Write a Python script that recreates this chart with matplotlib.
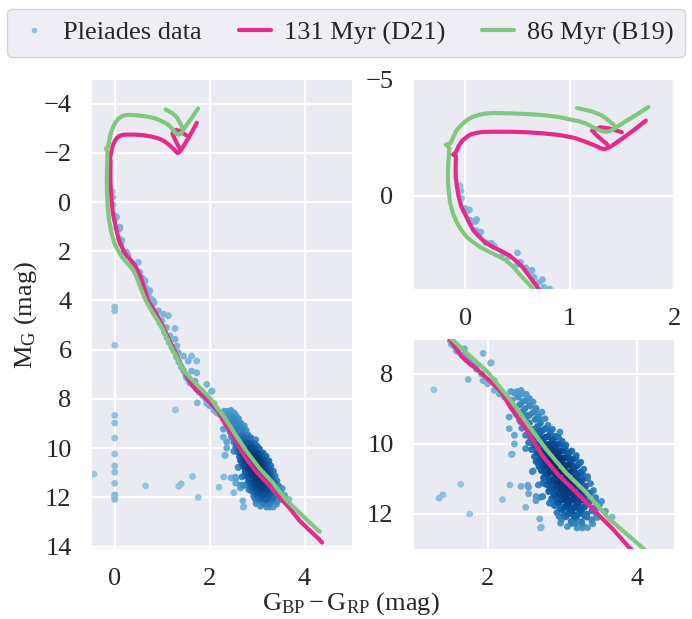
import numpy as np
import matplotlib
matplotlib.use("Agg")
import matplotlib.pyplot as plt
from matplotlib.lines import Line2D
import seaborn as sns

# ---------------- data ----------------
# Isochrone 131 Myr (D21): colour G_BP-G_RP and absolute G magnitude (nan = break)
d21_bp_rp = [4.37, 4.28, 4.10, 3.90, 3.68, 3.41, 3.19, 2.96, 2.74, 2.52, 2.30, 2.18, 1.93,
             1.65, 1.49, 1.37, 1.25, 1.12, 1.00, 0.84, 0.71, 0.63, 0.549, 0.49, 0.422, 0.34,
             0.263, 0.19, 0.136, 0.08, 0.041, -0.038, -0.065, -0.080, -0.09, -0.092, -0.09,
             -0.088, -0.115, -0.09, -0.061, -0.03, 0.01, 0.05, 0.105, 0.17, 0.263, 0.42, 0.58,
             0.75, 0.898, 1.0, 1.057, 1.152, 1.248, 1.30, 1.327, 1.36, 1.406, 1.47, 1.533, 1.63,
             1.73,
             np.nan, 1.50, 1.374, 1.295, 1.215, 1.28, 1.36]
d21_mg = [13.84, 13.65, 13.33, 12.96, 12.43, 11.86, 11.38, 10.91, 10.35, 9.59, 8.93, 8.50, 8.00,
          7.50, 7.00, 6.50, 6.00, 5.50, 5.00, 4.42, 4.03, 3.55, 3.06, 2.80, 2.56, 2.36,
          2.20, 2.00, 1.76, 1.50, 1.18, 0.46, 0.00, -0.40, -0.80, -1.13, -1.50,
          -1.70, -1.76, -1.86, -2.14, -2.35, -2.50, -2.62, -2.69, -2.73, -2.74, -2.74, -2.72,
          -2.67, -2.60, -2.52, -2.46, -2.31, -2.14, -2.03, -1.99, -2.03, -2.14, -2.34, -2.54, -2.86,
          -3.22,
          np.nan, -2.72, -2.89, -2.93, -2.79, -2.50, -2.20]

# Isochrone 86 Myr (B19)
b19_bp_rp = [4.32, 4.075, 3.63, 3.32, 3.05, 2.79, 2.56, 2.34, 2.00, 1.72, 1.47, 1.22, 0.97,
             0.80, 0.66, 0.59, 0.517, 0.46, 0.39, 0.31, 0.231, 0.15, 0.072, 0.01, -0.038, -0.08,
             -0.118, -0.145, -0.156, -0.165, -0.166, -0.162, -0.156, -0.152, -0.185, -0.14,
             -0.11, -0.086, -0.04, 0.01, 0.07, 0.136, 0.20, 0.263, 0.42, 0.58, 0.75, 0.898, 1.0,
             1.08, 1.152, 1.248, 1.31, 1.35, 1.39, 1.47, 1.63, 1.755,
             np.nan, 1.072, 1.215, 1.31, 1.374, 1.422]
b19_mg = [13.40, 12.96, 12.14, 11.38, 10.82, 10.16, 9.50, 8.83, 7.94, 7.40, 6.90, 6.00, 5.00,
          4.50, 4.03, 3.70, 3.35, 3.05, 2.77, 2.58, 2.41, 2.22, 1.98, 1.75, 1.47, 1.15,
          0.75, 0.30, -0.12, -0.55, -0.98, -1.40, -1.70, -2.05, -2.18, -2.25,
          -2.55, -2.79, -3.02, -3.22, -3.37, -3.47, -3.52, -3.54, -3.53, -3.50, -3.45, -3.37, -3.27,
          -3.20, -3.10, -2.88, -2.76, -2.74, -2.77, -3.00, -3.44, -3.80,
          np.nan, -3.76, -3.61, -3.44, -3.22, -3.03]

# Pleiades members (colour, M_G), upper and middle main sequence
ms_stars = [(-0.05, -0.42), (-0.04, -0.20), (-0.035, 0.12), (0.0, 0.55), (0.01, 0.68), (0.04, 1.04),
            (0.07, 1.11), (0.10, 1.10), (0.105, 1.50), (0.13, 1.68), (0.20, 2.02), (0.25, 2.08),
            (0.28, 2.17), (0.36, 2.48), (0.42, 2.60), (0.50, 2.45), (0.50, 2.95), (0.58, 3.09),
            (0.63, 3.24), (0.66, 3.50), (0.71, 3.71), (0.755, 3.93), (0.83, 4.10), (0.04, 0.61),
            (0.11, 1.02), (0.15, 1.56), (0.25, 2.04), (0.53, 2.86), (0.64, 3.20), (0.74, 3.60),
            (0.81, 4.01), (0.92, 4.42), (1.03, 4.56), (1.13, 4.62), (0.99, 4.83), (1.09, 5.10),
            (1.27, 5.14), (1.16, 5.44), (1.27, 5.58), (1.31, 5.85), (1.34, 6.12), (1.45, 6.26),
            (1.62, 6.26), (1.73, 6.46), (1.55, 6.46), (1.62, 6.87), (1.73, 6.94), (1.69, 7.28),
            (1.94, 7.41), (2.04, 7.69), (0.78, 4.20), (0.86, 4.50), (0.90, 4.70), (0.95, 4.90),
            (1.00, 5.05), (1.05, 5.30), (1.10, 5.50), (1.15, 5.70), (1.20, 5.90), (1.25, 6.05),
            (1.30, 6.30), (1.35, 6.50), (1.40, 6.70), (1.45, 6.85), (1.50, 7.05), (1.55, 7.20),
            (1.60, 7.35), (1.67, 7.45), (1.72, 7.60), (1.78, 7.72), (1.83, 7.75), (1.85, 7.86),
            (1.92, 8.00), (1.94, 8.19), (2.00, 8.28), (2.09, 8.19), (2.09, 8.47), (2.16, 8.57),
            (2.23, 8.66), (2.29, 8.80), (1.515, 7.15), (1.58, 7.34), (1.715, 7.53), (1.76, 7.67),
            (2.05, 7.68), (1.85, 7.76), (1.74, 8.16)]

# Pleiades members, low-mass cluster sequence
core_stars = [(2.31, 8.50), (2.37, 8.56), (2.45, 8.47), (2.52, 8.58),
              (2.33, 8.75), (2.41, 8.66), (2.47, 8.79), (2.56, 8.70), (2.61, 8.80),
              (2.35, 8.95), (2.43, 8.88), (2.50, 8.99), (2.57, 8.91), (2.65, 8.98),
              (2.39, 9.15), (2.47, 9.07), (2.53, 9.19), (2.61, 9.10), (2.68, 9.21), (2.73, 9.09),
              (2.44, 9.36), (2.51, 9.26), (2.56, 9.40), (2.64, 9.30), (2.71, 9.41), (2.77, 9.28),
              (2.46, 9.55), (2.53, 9.46), (2.60, 9.59), (2.67, 9.50), (2.73, 9.62), (2.81, 9.47), (2.87, 9.58),
              (2.51, 9.75), (2.57, 9.67), (2.64, 9.79), (2.70, 9.70), (2.77, 9.82), (2.84, 9.68), (2.91, 9.78), (2.97, 9.66),
              (2.55, 9.96), (2.62, 9.88), (2.67, 10.01), (2.74, 9.90), (2.80, 10.02), (2.87, 9.89), (2.93, 10.00), (3.00, 9.92), (3.05, 10.03),
              (2.59, 10.16), (2.66, 10.08), (2.71, 10.21), (2.78, 10.10), (2.84, 10.22), (2.91, 10.09), (2.97, 10.20), (3.04, 10.11), (3.10, 10.23),
              (2.63, 10.36), (2.70, 10.28), (2.75, 10.41), (2.82, 10.30), (2.88, 10.42), (2.95, 10.29), (3.01, 10.40), (3.08, 10.31), (3.14, 10.43), (3.19, 10.33),
              (2.68, 10.56), (2.73, 10.47), (2.80, 10.61), (2.86, 10.50), (2.93, 10.62), (2.99, 10.49), (3.06, 10.60), (3.12, 10.51), (3.19, 10.63), (3.25, 10.52),
              (2.72, 10.76), (2.77, 10.68), (2.84, 10.81), (2.90, 10.70), (2.97, 10.82), (3.03, 10.69), (3.10, 10.80), (3.16, 10.71), (3.23, 10.83), (3.29, 10.72),
              (2.75, 10.96), (2.81, 10.88), (2.88, 11.01), (2.94, 10.90), (3.01, 11.02), (3.07, 10.89), (3.14, 11.00), (3.20, 10.91), (3.27, 11.03), (3.34, 10.93),
              (2.79, 11.16), (2.85, 11.08), (2.92, 11.21), (2.98, 11.10), (3.05, 11.22), (3.11, 11.09), (3.18, 11.20), (3.24, 11.11), (3.31, 11.23), (3.38, 11.13),
              (2.82, 11.36), (2.88, 11.28), (2.95, 11.41), (3.01, 11.30), (3.08, 11.42), (3.14, 11.29), (3.21, 11.40), (3.27, 11.31), (3.35, 11.43), (3.42, 11.33),
              (2.86, 11.56), (2.91, 11.48), (2.98, 11.61), (3.04, 11.50), (3.11, 11.62), (3.17, 11.49), (3.24, 11.60), (3.30, 11.51), (3.38, 11.62), (3.45, 11.53),
              (2.90, 11.76), (2.96, 11.68), (3.03, 11.81), (3.09, 11.70), (3.16, 11.82), (3.22, 11.69), (3.29, 11.80), (3.35, 11.71), (3.43, 11.82), (3.50, 11.73),
              (2.93, 11.96), (3.00, 11.88), (3.06, 12.01), (3.13, 11.90), (3.19, 12.02), (3.26, 11.89), (3.33, 12.00), (3.40, 11.91), (3.46, 12.02),
              (2.99, 12.16), (3.05, 12.08), (3.12, 12.21), (3.19, 12.10), (3.26, 12.22), (3.33, 12.09), (3.40, 12.19), (3.47, 12.10),
              (3.07, 12.36), (3.13, 12.27), (3.20, 12.40), (3.27, 12.30), (3.34, 12.39), (3.41, 12.28),
              (2.75, 10.20), (2.82, 10.40), (2.88, 10.60), (2.95, 10.80), (3.02, 11.00), (2.85, 10.15),
              (2.92, 10.36), (2.98, 10.56), (3.05, 10.85), (2.78, 10.55), (2.84, 10.77), (2.90, 11.05),
              (2.70, 10.00), (2.78, 9.80), (2.85, 10.00), (3.00, 10.45), (3.10, 11.16), (3.00, 11.25),
              (3.15, 11.35), (3.06, 11.56), (2.95, 11.45), (3.20, 11.65), (3.10, 11.85)]

# Pleiades members, densest part of the low-mass sequence
dense_stars = [(2.55, 9.62), (2.63, 9.58), (2.70, 9.64), (2.77, 9.57), (2.84, 9.63),
               (2.58, 9.85), (2.66, 9.80), (2.73, 9.87), (2.81, 9.79), (2.88, 9.86), (2.95, 9.81),
               (2.62, 10.05), (2.69, 10.00), (2.76, 10.06), (2.83, 10.00), (2.90, 10.06), (2.97, 10.01), (3.03, 10.07),
               (2.66, 10.25), (2.73, 10.19), (2.80, 10.26), (2.87, 10.20), (2.94, 10.26), (3.01, 10.20), (3.07, 10.27), (3.13, 10.20),
               (2.70, 10.45), (2.77, 10.39), (2.84, 10.46), (2.91, 10.40), (2.97, 10.46), (3.04, 10.40), (3.11, 10.46), (3.17, 10.41),
               (2.74, 10.65), (2.81, 10.59), (2.88, 10.66), (2.94, 10.60), (3.01, 10.66), (3.08, 10.60), (3.14, 10.66), (3.21, 10.60),
               (2.78, 10.85), (2.85, 10.79), (2.91, 10.86), (2.98, 10.80), (3.05, 10.86), (3.11, 10.80), (3.18, 10.86), (3.25, 10.80),
               (2.82, 11.05), (2.89, 10.99), (2.95, 11.06), (3.02, 11.00), (3.08, 11.06), (3.15, 11.00), (3.21, 11.06), (3.28, 11.00),
               (2.85, 11.25), (2.92, 11.19), (2.98, 11.26), (3.05, 11.20), (3.11, 11.26), (3.18, 11.20), (3.24, 11.26), (3.31, 11.20),
               (2.89, 11.45), (2.95, 11.39), (3.02, 11.46), (3.08, 11.40), (3.15, 11.46), (3.21, 11.40), (3.28, 11.46), (3.34, 11.40),
               (2.93, 11.65), (3.00, 11.59), (3.06, 11.66), (3.13, 11.60), (3.19, 11.66), (3.26, 11.60), (3.32, 11.66),
               (2.97, 11.85), (3.04, 11.79), (3.10, 11.86), (3.17, 11.80), (3.23, 11.86), (3.30, 11.80),
               (3.02, 12.05), (3.09, 12.00), (3.16, 12.06), (3.23, 11.99), (3.30, 12.05)]

# Stars scattered away from the sequence
outlier_stars = [(2.34, 8.52), (2.40, 8.50), (2.47, 8.57), (2.51, 8.76), (2.56, 8.90), (2.56, 9.18),
                 (2.65, 9.04), (2.69, 9.28), (2.34, 8.99), (2.38, 9.13), (2.43, 9.32), (2.29, 9.23),
                 (2.36, 9.75), (2.29, 9.56), (1.28, 8.45), (2.36, 10.00), (2.33, 10.29), (2.51, 10.13),
                 (2.65, 10.50), (2.69, 10.65), (2.60, 10.79), (1.64, 11.15), (1.40, 11.45), (1.35, 11.55),
                 (1.76, 12.00), (2.30, 11.17), (2.45, 11.21), (2.54, 11.18), (2.55, 11.24), (2.68, 11.17),
                 (2.55, 11.42), (2.65, 11.50), (2.71, 11.52), (2.65, 11.62), (2.20, 11.59), (2.51, 11.81),
                 (2.70, 12.14), (2.71, 12.40), (3.18, 10.41), (3.23, 10.55), (3.27, 10.84), (3.34, 10.98),
                 (3.38, 11.40), (3.45, 11.64), (3.53, 11.64), (3.49, 11.83), (3.58, 11.92), (3.67, 12.09),
                 (3.40, 12.16), (3.27, 12.40), (3.18, 12.26), (2.98, 12.26), (2.96, 12.07), (2.89, 11.74),
                 (2.83, 11.69), (2.74, 11.50), (2.83, 11.31), (2.74, 11.12), (2.76, 10.74), (2.74, 10.55),
                 (2.78, 10.27), (2.32, 10.30), (2.61, 10.77), (2.72, 12.38),
                 (0.0, 4.26), (0.0, 4.42), (0.0, 5.82), (0.0, 8.67), (0.0, 8.98), (0.0, 9.59), (0.0, 10.24),
                 (0.0, 10.72), (0.0, 10.98), (0.0, 11.43), (0.0, 11.90), (0.0, 12.00), (0.0, 12.08),
                 (-0.44, 11.06), (0.65, 11.53)]

# ---------------- style ----------------
sns.set_style("darkgrid")
plt.rcParams["font.family"] = ["Liberation Serif", "DejaVu Serif"]
plt.rcParams["mathtext.fontset"] = "custom"
plt.rcParams["mathtext.rm"] = "Liberation Serif"
plt.rcParams["mathtext.it"] = "Liberation Serif:italic"
plt.rcParams["axes.unicode_minus"] = True

FS = 19
C_D21 = "#E7298A"
C_B19 = "#7FC97F"
LW = 3.0

stars = np.array(ms_stars + core_stars + dense_stars + outlier_stars)
sx, sy = stars[:, 0], stars[:, 1]
dx = (sx[:, None] - sx[None, :]) / 0.15
dy = (sy[:, None] - sy[None, :]) / 0.30
dens = np.exp(-0.5 * (dx ** 2 + dy ** 2)).sum(axis=1)
t = (dens - dens.min()) / (dens.max() - dens.min())
order = np.argsort(t)
cmap = plt.get_cmap("Blues")
cols = cmap(0.40 + 0.60 * t[order] ** 0.9)
sx, sy = sx[order], sy[order]

fig = plt.figure(figsize=(6.92, 6.19), dpi=100)
W, H = 692.0, 619.0


def axes_px(x0, x1, y0, y1):
    return fig.add_axes([x0 / W, 1 - y1 / H, (x1 - x0) / W, (y1 - y0) / H])


ax_main = axes_px(91, 352, 79, 549)
ax_top = axes_px(413, 674, 79, 289)
ax_bot = axes_px(413, 674, 339, 549)

for ax in (ax_main, ax_top, ax_bot):
    ax.scatter(sx, sy, s=24, c=cols, linewidths=0, zorder=2)
    ax.plot(d21_bp_rp, d21_mg, color=C_D21, lw=LW, zorder=3,
            solid_capstyle="round", solid_joinstyle="round")
    ax.plot(b19_bp_rp, b19_mg, color=C_B19, lw=LW, zorder=4,
            solid_capstyle="round", solid_joinstyle="round")
    ax.grid(True, color="white", lw=1.6)
    ax.tick_params(labelsize=FS, pad=14, length=0, colors=".15")

ax_main.set_xlim(-0.5, 5.0)
ax_main.set_ylim(14.1, -5.0)
ax_main.set_xticks([0, 2, 4])
ax_main.set_yticks([-4, -2, 0, 2, 4, 6, 8, 10, 12, 14])

ax_top.set_xlim(-0.5, 2.0)
ax_top.set_ylim(4.0, -5.0)
ax_top.set_xticks([0, 1, 2])
ax_top.set_yticks([-5, 0])

ax_bot.set_xlim(1.0, 4.5)
ax_bot.set_ylim(13.0, 7.0)
ax_bot.set_xticks([2, 4])
ax_bot.set_yticks([8, 10, 12])

fig.text(26 / W, 1 - 315 / H, r"$\mathrm{M_G}$ (mag)", rotation=90, ha="center", va="center",
         fontsize=FS, color=".15")
fig.text(351 / W, 1 - 604 / H, r"$\mathrm{G_{BP} - G_{RP}}$ (mag)", ha="center", va="center",
         fontsize=FS, color=".15")

handles = [Line2D([], [], ls="none", marker="o", ms=4, mec="none", mfc=cmap(0.42)),
           Line2D([], [], color=C_D21, lw=LW),
           Line2D([], [], color=C_B19, lw=LW)]
labels = ["Pleiades data", "131 Myr (D21)", "86 Myr (B19)"]
fig.legend(handles, labels, loc="upper center", bbox_to_anchor=(0.5, 1 - 9 / H), ncol=3,
           fontsize=FS, handlelength=1.2, handletextpad=0.5, columnspacing=1.4,
           borderpad=0.45, borderaxespad=0.0, frameon=True)

fig.savefig("out.png", dpi=100)
